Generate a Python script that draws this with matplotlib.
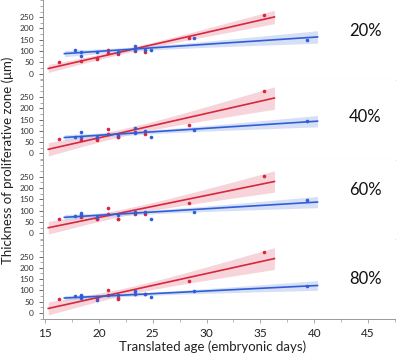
import numpy as np
import matplotlib.pyplot as plt

plt.rcParams['font.family'] = ['Lato', 'DejaVu Sans']

# ages (embryonic days) for the two series
red_age = [16.3, 18.3, 19.8, 19.8, 20.85, 20.85, 21.8, 21.8, 23.4, 24.3, 28.4, 35.3]
blue_age = [17.8, 18.3, 18.3, 19.8, 21.8, 23.4, 23.4, 24.3, 24.85, 28.85, 39.3]

# thickness (um) per panel
red_vals = [
    [53, 54, 71, 63, 107, 90, 90, 85, 101, 94, 156, 259],
    [65, 59, 65, 59, 107, 85, 71, 71, 93, 88, 125, 276],
    [65, 72, 62, 62, 110, 87, 62, 62, 87, 87, 134, 253],
    [63, 74, 72, 68, 100, 80, 66, 60, 84, 85, 141, 268],
]
blue_vals = [
    [103, 97, 78, 95, 97, 123, 104, 107, 104, 156, 149],
    [71, 93, 71, 71, 81, 113, 90, 98, 74, 103, 144],
    [76, 90, 81, 74, 81, 96, 90, 96, 65, 96, 147],
    [74, 82, 65, 56, 78, 98, 84, 85, 69, 98, 120],
]
panel_labels = ['20%', '40%', '60%', '80%']
label_y = [0.61, 0.53, 0.62, 0.50]

red_c, red_band = '#d7263d', '#f2b8c0'
blue_c, blue_band = '#2f5fd8', '#bccbf0'


def fit_band(x, y, pad=1.0):
    x = np.asarray(x, float)
    y = np.asarray(y, float)
    n = len(x)
    b, a = np.polyfit(x, y, 1)
    xs = np.linspace(x.min() - pad, x.max() + pad, 100)
    ys = a + b * xs
    resid = y - (a + b * x)
    s = np.sqrt(np.sum(resid ** 2) / (n - 2))
    sxx = np.sum((x - x.mean()) ** 2)
    se = s * np.sqrt(1.0 / n + (xs - x.mean()) ** 2 / sxx)
    return xs, ys, 2.2 * se


fig, axes = plt.subplots(4, 1, figsize=(3.97, 3.57), dpi=100, sharex=True)
fig.subplots_adjust(left=0.108, right=0.995, top=1.0, bottom=0.106, hspace=0)

for i, ax in enumerate(axes):
    for age, vals, c, bc in [(red_age, red_vals[i], red_c, red_band),
                             (blue_age, blue_vals[i], blue_c, blue_band)]:
        xs, ys, ci = fit_band(age, vals)
        ax.fill_between(xs, ys - ci, ys + ci, color=bc, alpha=0.6, lw=0)
        ax.plot(xs, ys, color=c, lw=1.2)
        ax.plot(age, vals, 'o', color=c, ms=2.6, mew=0)

    ax.set_ylim(-27, 326)
    ax.set_yticks(range(0, 300, 50))
    ax.set_yticks(range(-25, 326, 25), minor=True)
    ax.tick_params(axis='y', labelsize=6, colors='#555555', length=3, width=0.6)
    ax.tick_params(axis='y', which='minor', length=2, width=0.5, colors='#888888')
    for lab in ax.get_yticklabels():
        lab.set_color('#333333')
    ax.spines['top'].set_visible(False)
    ax.spines['right'].set_visible(False)
    ax.spines['left'].set_color('#999999')
    ax.spines['left'].set_linewidth(0.7)
    if i < 3:
        ax.spines['bottom'].set_color('#e2e2e2')
        ax.spines['bottom'].set_linewidth(0.8)
        ax.tick_params(axis='x', which='both', length=0)
    else:
        ax.spines['bottom'].set_color('#999999')
        ax.spines['bottom'].set_linewidth(0.7)
    ax.text(0.915, label_y[i], panel_labels[i], transform=ax.transAxes,
            ha='center', va='center', fontsize=12, color='#111111')

ax = axes[-1]
ax.set_xlim(14.8, 47.5)
ax.set_xticks(range(15, 46, 5))
ax.set_xticks(np.arange(15, 47.6, 2.5), minor=True)
ax.tick_params(axis='x', labelsize=8.5, colors='#999999', length=3, width=0.6, labelcolor='#222222')
ax.tick_params(axis='x', which='minor', length=2, width=0.5, colors='#999999')

fig.text(0.535, 0.028, 'Translated age (embryonic days)', ha='center', va='center',
         fontsize=9.5, color='#222222')
fig.text(0.02, 0.55, 'Thickness of proliferative zone (\u03bcm)', rotation=90,
         ha='center', va='center', fontsize=9.5, color='#222222')

fig.savefig('out.png', dpi=100)
